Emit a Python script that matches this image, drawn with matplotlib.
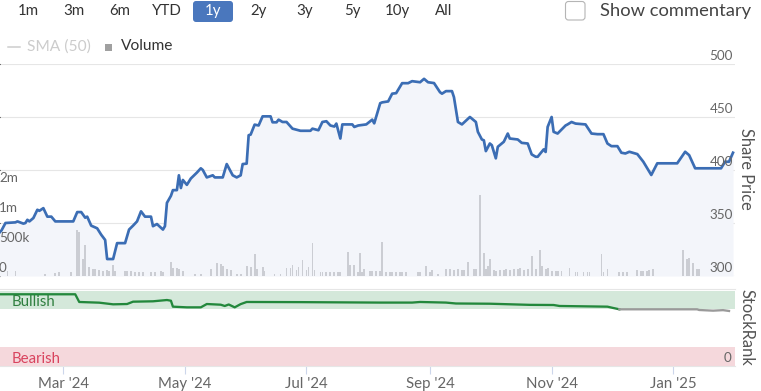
import matplotlib
matplotlib.use("Agg")
import matplotlib.pyplot as plt
import matplotlib.dates as mdates
from matplotlib.patches import FancyBboxPatch
from matplotlib.lines import Line2D
import pandas as pd
import numpy as np

plt.rcParams['font.family'] = ['Lato', 'DejaVu Sans']

# ---------------- data ----------------
base_date = '2024-01-29'

price_day = [0, 1, 3, 8, 9, 12, 13, 14, 15, 17, 19, 20, 22, 24, 26, 28, 37, 39, 41, 43,
             44, 46, 49, 51, 53, 54, 57, 59, 63, 65, 67, 69, 71, 73, 76, 77, 79, 82, 83, 84,
             86, 87, 89, 90, 91, 92, 94, 96, 99, 101, 102, 104, 107, 108, 112, 114, 117, 119, 121, 122,
             124, 125, 126, 128, 130, 132, 136, 137, 139, 140, 142, 144, 147, 151, 156, 157, 160, 162, 164, 166,
             168, 169, 171, 172, 177, 178, 180, 184, 187, 188, 191, 192, 195, 197, 199, 202, 205, 207, 211, 213,
             215, 218, 221, 222, 224, 227, 228, 230, 232, 236, 239, 240, 242, 243, 244, 246, 247, 249, 250, 253,
             255, 256, 260, 262, 265, 267, 269, 270, 273, 274, 275, 277, 278, 280, 284, 285, 287, 289, 294, 297,
             300, 303, 305, 307, 310, 312, 314, 316, 320, 323, 327, 330, 340, 344, 346, 349, 362, 364, 366, 368]
price_close = [341, 343, 350, 350.6, 351.5, 349.4, 350, 353, 351.5, 354.7, 362.5, 361.5, 364, 356, 356, 351.5, 351.5, 360.3, 360.3, 355,
               356, 347.5, 345, 339, 334, 316, 316, 331, 331, 343.8, 347.5, 351.5, 361, 356, 356, 347, 349, 343.8, 347, 369,
               375.6, 381, 381, 395, 383, 390.6, 386, 392, 397.5, 401.6, 400, 393, 395, 393, 393, 405.6, 395, 393, 395, 405.6,
               406, 432.8, 433.4, 442.8, 442, 450.6, 450.6, 445, 445, 447.5, 445.3, 445.3, 439, 437, 437, 439, 437.5, 445.3, 446, 442,
               441, 443.8, 429.7, 443, 443, 440.6, 442, 443, 447.5, 444, 463, 463.8, 464.7, 472, 472.5, 481.9, 481.9, 483.8, 482.8, 486,
               482.8, 482, 473.4, 472, 474.4, 474.4, 468.7, 445.3, 443, 450, 445.3, 436, 428.8, 428, 417.8, 425, 423.4, 411, 421.9, 426.6,
               434.4, 429.7, 428.8, 425.6, 425, 414.7, 412.5, 412.5, 419.4, 417, 440.6, 450, 436, 434.4, 442, 443, 445.3, 443.8, 443, 434.4,
               433.8, 433.8, 425, 422.5, 422.5, 416.3, 415.6, 417.2, 415, 407.8, 395.3, 406.3, 406.3, 417.2, 414, 401.6, 401.6, 407.8, 407.8, 416.3]

volume_day = [4, 8, 23, 28, 30, 36, 39, 40, 42, 43, 45, 47, 48, 50, 52, 54, 55, 57, 58, 63,
              64, 66, 68, 70, 72, 76, 78, 81, 82, 86, 87, 89, 90, 92, 98, 101, 106, 109, 111, 112,
              114, 116, 119, 121, 124, 126, 128, 129, 132, 133, 138, 141, 144, 146, 147, 149, 150, 152, 154, 155,
              157, 158, 161, 162, 164, 166, 168, 170, 171, 175, 176, 178, 180, 181, 182, 183, 186, 187, 189, 191,
              192, 194, 196, 197, 199, 201, 202, 204, 210, 211, 214, 216, 217, 220, 224, 226, 228, 230, 232, 233,
              235, 238, 239, 241, 243, 244, 245, 246, 248, 249, 251, 253, 254, 256, 258, 260, 261, 263, 265, 267,
              269, 271, 272, 274, 275, 277, 279, 280, 282, 286, 289, 290, 293, 295, 296, 302, 303, 305, 311, 313,
              315, 320, 322, 323, 325, 326, 328, 343, 345, 346, 348, 350, 351]
volume_thousands = [80, 80, 40, 50, 60, 60, 760, 740, 290, 510, 150, 120, 110, 100, 90, 100, 90, 175, 80, 80,
                    90, 80, 70, 70, 70, 70, 70, 80, 60, 225, 130, 140, 120, 90, 40, 40, 120, 210, 200, 160,
                    110, 100, 40, 40, 160, 150, 360, 110, 150, 80, 40, 40, 130, 130, 190, 100, 150, 260, 100, 150,
                    550, 100, 60, 60, 60, 60, 60, 60, 60, 400, 180, 190, 60, 380, 60, 110, 90, 90, 90, 90,
                    565, 60, 60, 60, 60, 60, 60, 60, 60, 60, 170, 70, 100, 40, 110, 110, 100, 110, 100, 100,
                    230, 110, 110, 1350, 375, 120, 160, 290, 100, 90, 100, 100, 110, 100, 120, 110, 130, 100, 110, 325,
                    120, 425, 160, 110, 140, 90, 80, 80, 80, 130, 60, 60, 60, 60, 60, 360, 60, 110, 60, 60,
                    60, 100, 80, 90, 90, 100, 110, 440, 290, 300, 220, 120, 120]

rank_day = [0, 38, 40, 50, 57, 64, 67, 77, 84, 86, 87, 94, 101, 104, 111, 113, 115, 118, 121, 124,
            151, 191, 207, 211, 224, 229, 246, 266, 278, 281, 305, 308, 311, 350, 351, 358, 363, 366]
rank_value = [95, 95, 84.8, 83.9, 81.7, 82.1, 85.2, 85.7, 87.4, 86.5, 78.6, 77.7, 77.7, 82.1, 81.2, 79.5, 81.5, 77.7, 82, 84.8,
              84.6, 84.0, 84.0, 84.8, 84.0, 82.8, 82.5, 81.0, 80.8, 79.5, 78.6, 76.8, 75.1, 75.1, 74.2, 73.3, 74, 72.9]
rank_green_min = 76

range_buttons = ['1m', '3m', '6m', 'YTD', '1y', '2y', '3y', '5y', '10y', 'All']
selected_button = '1y'
price_ticks = [300, 350, 400, 450, 500]
volume_ticks = [0, 500000, 1000000, 1500000]
volume_tick_labels = ['0', '500k', '1m', '2m']
month_ticks = ['2024-03-01', '2024-05-01', '2024-07-01', '2024-09-01', '2024-11-01', '2025-01-01']
month_labels = ["Mar '24", "May '24", "Jul '24", "Sep '24", "Nov '24", "Jan '25"]

# ---------------- layout helpers ----------------
W, H = 761, 391
DPI = 100
def fx(px):
    return px / W
def fy(py):
    return 1 - py / H
def pt(px):
    return px * 72 / DPI

base = pd.Timestamp(base_date)
price_dates = base + pd.to_timedelta(price_day, unit='D')
vol_dates = base + pd.to_timedelta(volume_day, unit='D')
rank_dates = base + pd.to_timedelta(rank_day, unit='D')
vol_values = np.array(volume_thousands) * 1000.0

x0 = mdates.date2num(base) + 0.25
x1 = mdates.date2num(base) + 369.0

fig = plt.figure(figsize=(W / DPI, H / DPI), dpi=DPI)
fig.patch.set_facecolor('white')

PRICE_BLUE = '#3b6db4'
GRID = '#e6e6e6'
LABEL = '#666666'

# ---------------- price panel ----------------
ax = fig.add_axes([0, fy(276), 735 / W, 212 / H])
ax.set_xlim(x0, x1)
ax.set_ylim(300, 500)
ax.fill_between(price_dates, price_close, 300, color='#f3f5fa', lw=0, zorder=1)
ax.set_yticks(price_ticks)
ax.yaxis.grid(True, color=GRID, lw=0.8)
ax.set_axisbelow(True)
ax.tick_params(left=False, right=False, bottom=False, labelleft=False, labelbottom=False)
for s in ax.spines.values():
    s.set_visible(False)

axv = ax.twinx()
axv.set_ylim(0, 3.533e6)
axv.set_xlim(x0, x1)
axv.bar(vol_dates, vol_values, width=0.9, color='#cbcdd3', lw=0, align='center', zorder=2)
axv.tick_params(left=False, right=False, bottom=False, labelleft=False, labelright=False, labelbottom=False)
for s in axv.spines.values():
    s.set_visible(False)
axv.plot(price_dates, price_close, color=PRICE_BLUE, lw=pt(2.7), transform=ax.transData,
         solid_joinstyle='round', zorder=5)

for t in price_ticks:
    axv.annotate(str(t), xy=(1, t), xycoords=ax.get_yaxis_transform(), xytext=(-2, 8),
                 textcoords='offset pixels', ha='right', va='center', fontsize=pt(13.5),
                 color=LABEL, zorder=6, annotation_clip=False)
for v, lab in zip(volume_ticks, volume_tick_labels):
    axv.annotate(lab, xy=(0, v), xycoords=axv.get_yaxis_transform(), xytext=(-1, 8),
                 textcoords='offset pixels', ha='left', va='center', fontsize=pt(13.5),
                 color=LABEL, zorder=6, annotation_clip=False)

fig.text(fx(746), fy(169), 'Share Price', rotation=-90, ha='center', va='center',
         fontsize=pt(16.5), color='#555555')

# ---------------- StockRank panel ----------------
axr = fig.add_axes([0, fy(366), 735 / W, 77 / H])
axr.set_xlim(x0, x1)
axr.set_ylim(0, 102)
axr.axhspan(75, 100, color='#d4e8da', lw=0, zorder=0)
axr.axhspan(0, 25, color='#f5d8dc', lw=0, zorder=0)
rv = np.array(rank_value)
below = np.where(rv < rank_green_min)[0]
split = below[0] if len(below) else len(rv)
axr.plot(rank_dates[:split + 1], rv[:split + 1], color='#23883c', lw=pt(2.3), zorder=3)
if split < len(rv):
    axr.plot(rank_dates[split:], rv[split:], color='#9a9a9a', lw=pt(2.3), zorder=3)
axr.set_yticks([])
for side in ['left', 'right']:
    axr.spines[side].set_visible(False)
axr.spines['top'].set_color(GRID)
axr.spines['top'].set_linewidth(0.8)
axr.spines['bottom'].set_color(GRID)
axr.spines['bottom'].set_linewidth(0.8)
axr.set_xticks([mdates.date2num(pd.Timestamp(d)) for d in month_ticks])
axr.set_xticklabels(month_labels)
axr.tick_params(axis='x', length=pt(8), width=0.8, color='#ccd6eb', labelsize=pt(15),
                labelcolor=LABEL, pad=pt(3))
axr.annotate('0', xy=(1, 0), xycoords=axr.get_yaxis_transform(), xytext=(-4, 8),
             textcoords='offset pixels', ha='right', va='center', fontsize=pt(13.5), color=LABEL)
fig.text(fx(12), fy(302.5), 'Bullish', ha='left', va='center', fontsize=pt(15), color='#2f7f3f')
fig.text(fx(12), fy(359), 'Bearish', ha='left', va='center', fontsize=pt(15), color='#d9435e')
fig.text(fx(746), fy(327), 'StockRank', rotation=-90, ha='center', va='center',
         fontsize=pt(16.5), color='#555555')

# ---------------- toolbar ----------------
btn_centers = [28, 74, 120, 167, 213, 259, 305, 352, 397, 444]
for lab, cx in zip(range_buttons, btn_centers):
    if lab == selected_button:
        fig.patches.append(FancyBboxPatch((1.93, (H - 22) / DPI), 0.40, 0.21,
                                          boxstyle='round,pad=0,rounding_size=0.03',
                                          transform=fig.dpi_scale_trans, fc='#4a77bd', ec='none'))
        fig.text(fx(cx), fy(11), lab, ha='center', va='center', fontsize=pt(15), color='white')
    else:
        fig.text(fx(cx), fy(11), lab, ha='center', va='center', fontsize=pt(15), color='#333333')

fig.patches.append(FancyBboxPatch((5.655, (H - 20) / DPI), 0.195, 0.185,
                                  boxstyle='round,pad=0,rounding_size=0.03',
                                  transform=fig.dpi_scale_trans, fc='white', ec='#b5b5b5', lw=0.8))
fig.text(fx(600), fy(11), 'Show commentary', ha='left', va='center', fontsize=pt(18.4), color='#444444')

# legend row
fig.lines.append(Line2D([fx(8), fx(20)], [fy(46.5), fy(46.5)], transform=fig.transFigure,
                        color='#cccccc', lw=pt(1.5)))
fig.text(fx(27), fy(46.5), 'SMA (50)', ha='left', va='center', fontsize=pt(15.5), color='#cccccc')
fig.patches.append(FancyBboxPatch((1.05, (H - 50.5) / DPI), 0.07, 0.07, boxstyle='square,pad=0',
                                  transform=fig.dpi_scale_trans, fc='#a0a0a0', ec='none'))
fig.text(fx(121), fy(46.5), 'Volume', ha='left', va='center', fontsize=pt(15.5), color='#333333')

fig.savefig('out.png', dpi=DPI, facecolor='white')
